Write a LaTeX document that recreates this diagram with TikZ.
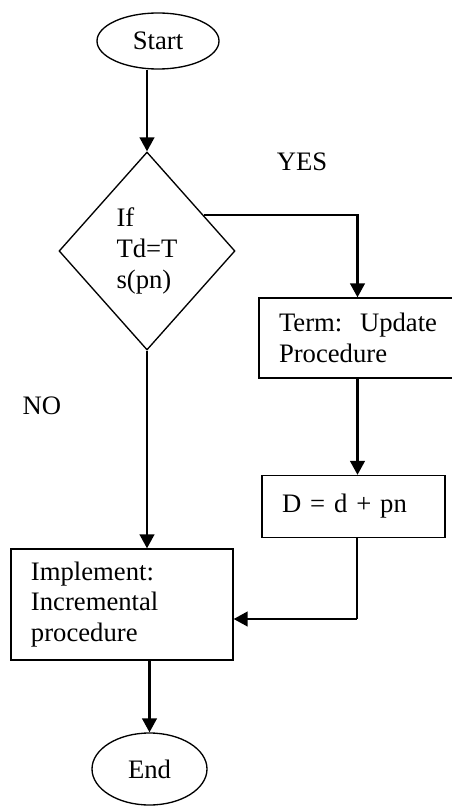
\documentclass[tikz,border=0pt]{standalone}
\usepackage{fontspec}
\setmainfont{Liberation Serif}
\usetikzlibrary{shapes.geometric,arrows.meta,calc}

\begin{document}
\begin{tikzpicture}[x=0.75pt,y=0.75pt,yscale=-1,xscale=1,
  font=\fontsize{20}{23}\selectfont,
  terminal/.style={draw,ellipse,line width=1pt,inner sep=0pt},
  decision/.style={draw,diamond,line width=1pt,inner sep=0pt,align=left,
    minimum width=132pt,minimum height=148.5pt},
  process/.style={draw,rectangle,line width=1pt,align=left,inner xsep=15pt},
  flow/.style={line width=1.7pt,-{Triangle[length=10.5pt,width=11pt]}},
  plain/.style={line width=1.7pt}]
\useasboundingbox (0,0) rectangle (452,806);
%Shape: Ellipse
\node[terminal,minimum width=91.5pt,minimum height=42pt] (start) at (158,41) {Start};
%Shape: Diamond
\node[decision] (test) at (147,251) {If\\Td=T\\s(pn)};
%Shape: Rectangle
\node[process,text width=117.75pt,minimum height=60pt] (term) at (357.5,338) {\mbox{Term:\ \ Update}\\Procedure};
%Shape: Rectangle
\node[process,text width=107.25pt,minimum height=46.5pt] (upd) at (353.5,506.5) {D = d + pn};
%Shape: Rectangle
\node[process,text width=136.5pt,minimum height=83.25pt] (impl) at (122,604.5) {Implement:\\Incremental\\procedure};
%Shape: Ellipse
\node[terminal,minimum width=86.25pt,minimum height=54pt] (stop) at (149.5,769) {End};
% Text Node
\node (yes) at (302,162) {YES};
% Text Node
\node (no) at (42,406) {NO};
\coordinate (join) at (357,619);

%Straight Lines
\draw[flow] (test.north |- start.south) -- (test.north);
\draw[flow] ($(test.north)!0.64!(test.east)$) -| (term.north);
\draw[flow] (term.south) -- (term.south |- upd.north);
\draw[plain] (join |- upd.south) -- (join);
\draw[flow] (join) -- (join -| impl.east);
\draw[flow] (test.south) -- (test.south |- impl.north);
\draw[flow] (stop.north |- impl.south) -- (stop.north);
\end{tikzpicture}
\end{document}
